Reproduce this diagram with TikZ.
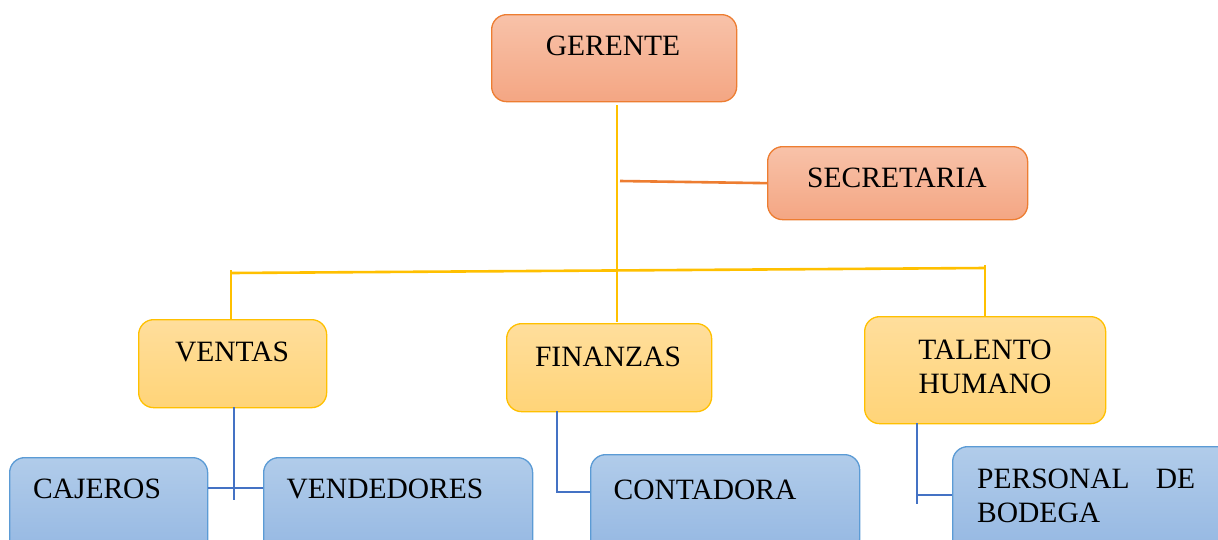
\documentclass[tikz,border=0pt]{standalone}
\usepackage{fontspec}
\setmainfont{Liberation Serif}
\definecolor{oborder}{HTML}{ED7D31}
\definecolor{otop}{HTML}{F8C2A9}
\definecolor{obot}{HTML}{F4A683}
\definecolor{yborder}{HTML}{FFC000}
\definecolor{ytop}{HTML}{FFDE9C}
\definecolor{ybot}{HTML}{FFD478}
\definecolor{bborder}{HTML}{5B9BD5}
\definecolor{btop}{HTML}{B1CCEA}
\definecolor{bbot}{HTML}{94B7E2}
\definecolor{bline}{HTML}{4472C4}
\begin{document}
\begin{tikzpicture}[x=1pt,y=-1pt,
  box/.style={draw, rounded corners=15pt, line width=1.3pt, anchor=north west, inner sep=0pt},
  obox/.style={box, draw=oborder, top color=otop, bottom color=obot},
  ybox/.style={box, draw=yborder, top color=ytop, bottom color=ybot},
  bbox/.style={box, draw=bborder, top color=btop, bottom color=bbot},
  lbl/.style={inner sep=0pt, font=\fontsize{29.5}{34}\selectfont, text=black},
  yline/.style={draw=yborder, line width=2.6pt},
  oline/.style={draw=oborder, line width=2.6pt},
  bline/.style={draw=bline, line width=2.6pt}]
\clip (0,0) rectangle (1218,539);
\fill[white] (0,0) rectangle (1218,539);
% boxes
\node[obox, minimum width=245pt, minimum height=87pt] (ger) at (491,14) {};
\node[obox, minimum width=260pt, minimum height=73pt] (sec) at (767,146) {};
\node[ybox, minimum width=188pt, minimum height=88pt] (ven) at (138,319) {};
\node[ybox, minimum width=205pt, minimum height=88pt] (fin) at (506,323) {};
\node[ybox, minimum width=241pt, minimum height=107pt] (tal) at (864,316) {};
\node[bbox, minimum width=198pt, minimum height=100pt] (caj) at (9,457) {};
\node[bbox, minimum width=269pt, minimum height=100pt] (vnd) at (263,457) {};
\node[bbox, minimum width=269pt, minimum height=100pt] (con) at (590,454) {};
\node[bbox, minimum width=280pt, minimum height=110pt] (per) at (952,446) {};
% labels
\node[lbl] (tger) at (613,46) {GERENTE};
\node[lbl] (tsec) at (897,178) {SECRETARIA};
\node[lbl] (tven) at (232,352) {VENTAS};
\node[lbl] (tfin) at (608,357) {FINANZAS};
\node[lbl, align=center] (ttal) at (985,367) {TALENTO\\HUMANO};
\node[lbl] (tcaj) at (97,489) {CAJEROS};
\node[lbl] (tvnd) at (385,489) {VENDEDORES};
\node[lbl] (tcon) at (705,490) {CONTADORA};
\node[lbl, text width=218pt, align=left, anchor=west] (tper) at (977,496) {PERSONAL\hfill DE\\BODEGA};
% coordinates
\coordinate (g0) at (617,105);
\coordinate (g1) at (617,322);
\coordinate (s0) at (620,181);
\coordinate (h0) at (231,273);
\coordinate (h1) at (985,268);
\coordinate (h1t) at (985,265);
\coordinate (h0t) at (231,270);
\coordinate (v0) at (234,407);
\coordinate (v1) at (234,500);
\coordinate (f0) at (557,411);
\coordinate (f1) at (557,492);
\coordinate (t0) at (917,423);
\coordinate (t1) at (917,504);
\coordinate (t2) at (917,495);
% connectors
\draw[yline] (g0) -- (g1);
\draw[oline] (s0) -- (sec.west);
\draw[yline] (h0) -- (h1);
\draw[yline] (h0t) -- (ven.north -| h0t);
\draw[yline] (h1t) -- (tal.north -| h1t);
\draw[bline] (v0) -- (v1);
\draw[bline] (caj.east |- 0,488) -- (vnd.west |- 0,488);
\draw[bline] (f0) -- (f1) -- (con.west |- f1);
\draw[bline] (t0) -- (t1);
\draw[bline] (t2) -- (per.west |- t2);
\end{tikzpicture}
\end{document}
